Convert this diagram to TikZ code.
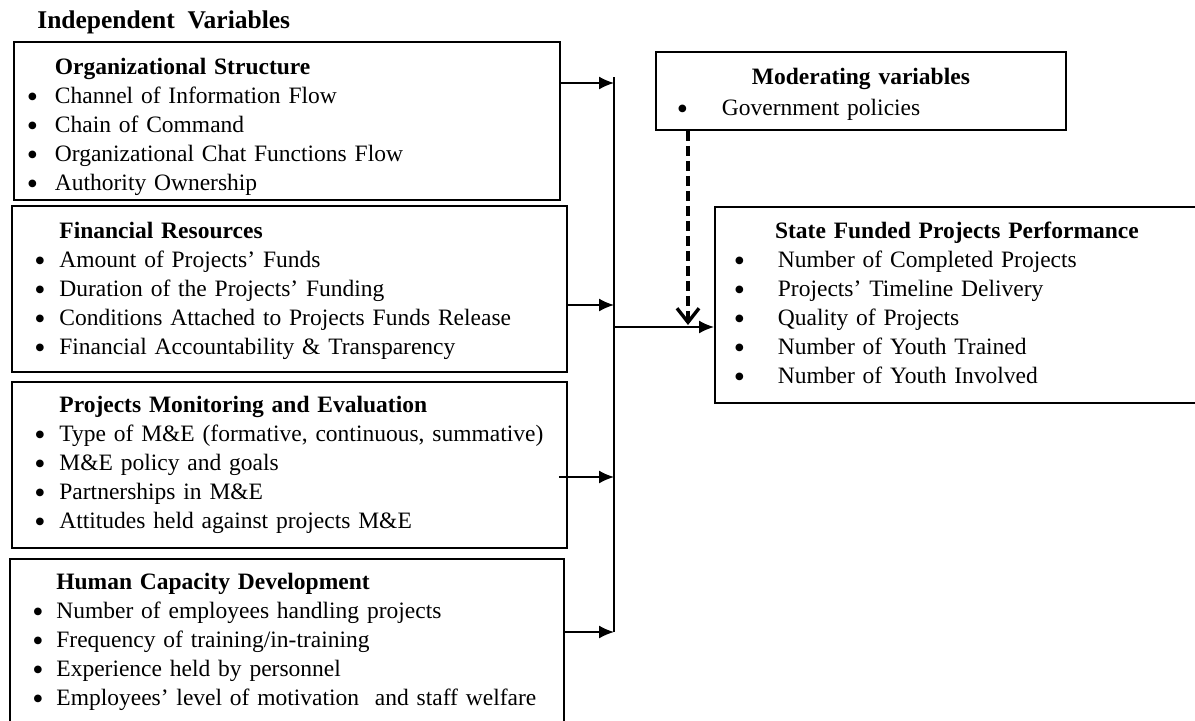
\documentclass[tikz,border=0pt]{standalone}
\usepackage{fontspec}
\setmainfont{Liberation Serif}
\usetikzlibrary{arrows.meta, positioning, calc}

\newcommand{\dotmark}{\raisebox{-1.9pt}{\fontsize{16}{14}\selectfont\textbullet}}
\newcommand{\itm}[2][12.5pt]{\makebox[#1][l]{\dotmark}#2}
\newcommand{\hdr}[3][12.5pt]{\rule{0pt}{#2}\makebox[#1]{}\textbf{#3}}

\begin{document}
\begin{tikzpicture}[x=0.5pt, y=-0.5pt]
	\tikzstyle{var} = [
	draw,
	line width=.9pt,
	rectangle,
	anchor=north west,
	align=left,
	inner ysep=0pt,
	font=\fontsize{11.75}{14.5}\selectfont
	]
	\tikzstyle{link} = [line width=.8pt, -{Latex[length=7.5pt, width=6.5pt]}]
	\tikzstyle{moder} = [line width=1.7pt, dash pattern=on 5pt off 2.5pt, -{Straight Barb[length=7pt, width=11pt]}]
	\useasboundingbox (0,0) rectangle (1195,720);
	
	\node[anchor=west, inner sep=0pt, font=\fontsize{12.75}{14}\selectfont\bfseries] (iv) at (37,22) {Independent\ \ Variables};
	
	\node[var, minimum width=273pt, minimum height=79pt, text width=260pt, inner xsep=6.5pt] (org) at (13,41) {\hdr[14pt]{14pt}{Organizational Structure}\\
		\itm[14pt]{Channel of Information Flow}\\
		\itm[14pt]{Chain of Command}\\
		\itm[14pt]{Organizational Chat Functions Flow}\\
		\itm[14pt]{Authority Ownership}};
	\node[var, minimum width=277.5pt, minimum height=83pt, text width=255pt, inner xsep=11.25pt] (fin) at (11,205) {\hdr{10pt}{Financial Resources}\\
		\itm{Amount of Projects' Funds}\\
		\itm{Duration of the Projects' Funding}\\
		\itm{Conditions Attached to Projects Funds Release}\\
		\itm{Financial Accountability \& Transparency}};
	\node[var, minimum width=277.5pt, minimum height=83pt, text width=255pt, inner xsep=11.25pt] (mne) at (11,381) {\hdr{0pt}{Projects Monitoring and Evaluation}\\
		\itm{Type of M\&E (formative, continuous, summative)}\\
		\itm{M\&E policy and goals}\\
		\itm{Partnerships in M\&E}\\
		\itm{Attitudes held against projects M\&E}};
	\node[var, minimum width=277pt, minimum height=83pt, text width=254.5pt, inner xsep=11.25pt] (hcd) at (9,558) {\hdr[12pt]{0pt}{Human Capacity Development}\\
		\itm[12pt]{Number of employees handling projects}\\
		\itm[12pt]{Frequency of training/in-training}\\
		\itm[12pt]{Experience held by personnel}\\
		\itm[12pt]{Employees' level of motivation\ \ and staff welfare}};
	
	\node[var, minimum width=205pt, minimum height=39pt, text width=184pt, inner xsep=10.5pt] (mod) at (655,51) {\rule{0pt}{12pt}\makebox[184pt]{\textbf{Moderating variables}}\\[1pt]
		\itm[22.5pt]{Government policies}};
	\node[var, minimum width=242pt, minimum height=98pt, text width=223pt, inner xsep=9.5pt] (sfp) at (714,206) {\makebox[223pt]{\textbf{State Funded Projects Performance}}\\
		\itm[22pt]{Number of Completed Projects}\\
		\itm[22pt]{Projects' Timeline Delivery}\\
		\itm[22pt]{Quality of Projects}\\
		\itm[22pt]{Number of Youth Trained}\\
		\itm[22pt]{Number of Youth Involved}};
	
	\coordinate (top) at (614,77);
	\coordinate (j1) at (614,83);
	\coordinate (j2) at (614,305);
	\coordinate (j3) at (614,477);
	\coordinate (j4) at (614,632);
	\coordinate (jm) at (614,327);
	\coordinate (dm) at (688,325);
	
	\draw[line width=.8pt] (top) -- (j4);
	\draw[link] (org.east |- j1) to (j1);
	\draw[link] (fin.east |- j2) to (j2);
	\draw[link] ($(mne.east |- j3)+(-9,0)$) to (j3);
	\draw[link] (hcd.east |- j4) to (j4);
	\draw[link] (jm) to (jm -| sfp.west);
	\draw[moder] (mod.south -| dm) to (dm);
\end{tikzpicture}
\end{document}
